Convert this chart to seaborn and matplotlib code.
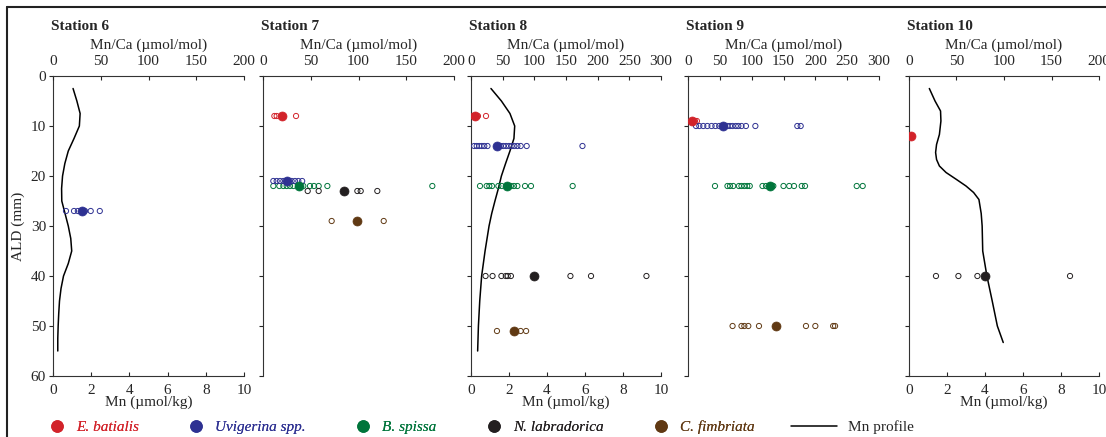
import matplotlib
matplotlib.use("Agg")
import matplotlib.pyplot as plt
from matplotlib.lines import Line2D
import seaborn as sns

# ---- colours of the species ----
RED = "#d2232a"
BLUE = "#2e3192"
GREEN = "#00753b"
BLACK = "#231f20"
BROWN = "#603913"

# ---- Mn profiles (depth mm, Mn umol/kg) ----
st6_prof_depth = [2.5, 5, 7.5, 10, 12.5, 15, 17.5, 20, 22.5, 25, 27.5, 30, 32.5, 35, 37.5, 40, 42.5, 45, 47.5, 50, 52.5, 55]
st6_prof_mn = [1.05, 1.25, 1.42, 1.38, 1.1, 0.8, 0.62, 0.5, 0.45, 0.46, 0.63, 0.8, 0.93, 0.98, 0.8, 0.55, 0.42, 0.34, 0.3, 0.27, 0.25, 0.25]

st8_prof_depth = [2.5, 5, 7.5, 10, 12.5, 15, 17.5, 20, 22.5, 25, 27.5, 30, 35, 40, 45, 50, 55]
st8_prof_mn = [1.05, 1.6, 2.05, 2.3, 2.26, 2.05, 1.82, 1.6, 1.44, 1.26, 1.09, 0.95, 0.74, 0.56, 0.46, 0.39, 0.35]

st10_prof_depth = [2.5, 5, 7, 9, 11.7, 13.7, 15.3, 16.7, 18, 19.3, 20.7, 22, 23.3, 24.7, 27.5, 30, 35, 40, 45, 50, 53.3]
st10_prof_mn = [1.07, 1.37, 1.66, 1.68, 1.6, 1.45, 1.4, 1.45, 1.6, 1.95, 2.5, 3.0, 3.4, 3.68, 3.8, 3.85, 3.88, 4.1, 4.38, 4.65, 4.96]

# ---- Mn/Ca individual values (open) and means (filled), umol/mol ----
# station 6
st6_uvi_depth = 27
st6_uvi_open = [13.6, 22, 26, 33.5, 39.5, 49]
st6_uvi_mean = 30

# station 7
st7_bat_depth = 8
st7_bat_open = [11.9, 14.3, 34.6]
st7_bat_mean = 19.9
st7_uvi_depth = 21
st7_uvi_open = [10.8, 14.3, 17.8, 21.3, 30, 33.5, 37, 41]
st7_uvi_mean = 25.5
st7_spi_depth = 22
st7_spi_open = [10.8, 17.1, 21.3, 24.8, 28.3, 31.8, 42.2, 49.2, 53.4, 58.3, 67.4, 177.3]
st7_spi_mean = 38
st7_lab_depth = 23
st7_lab_open = [46.8, 58.3, 98.8, 102.3, 119.7]
st7_lab_mean = 84.8
st7_fim_depth = 29
st7_fim_open = [71.9, 126.4]
st7_fim_mean = 98.1

# station 8
st8_bat_depth = 8
st8_bat_open = [3, 11, 23.7]
st8_bat_mean = 6.3
st8_uvi_depth = 14
st8_uvi_open = [5, 9, 13, 17, 21, 26, 46.8, 51, 55.3, 60, 64.2, 68.4, 73.2, 78.4, 87.9, 176]
st8_uvi_mean = 40.5
st8_spi_depth = 22
st8_spi_open = [14.2, 24.7, 28.9, 33.2, 43.2, 48.4, 63.2, 67.9, 73.2, 85.3, 94.7, 160.5]
st8_spi_mean = 56.3
st8_lab_depth = 40
st8_lab_open = [23, 34, 48, 55, 58, 63, 157, 189.5, 277]
st8_lab_mean = 100
st8_fim_depth = 51
st8_fim_open = [41, 78.4, 87]
st8_fim_mean = 68.4

# station 9
st9_bat_depth = 9
st9_bat_open = [11, 14]
st9_bat_mean = 6.8
st9_uvi_depth = 10
st9_uvi_open = [12.6, 17.8, 24, 30.4, 37, 43, 49, 62, 66, 70, 75, 79, 84, 91, 105.8, 171.7, 177]
st9_uvi_mean = 55.5
st9_spi_depth = 22
st9_spi_open = [42.4, 62, 66, 71, 80, 84, 88.5, 93, 97, 117, 122.5, 134, 150, 159, 166.5, 178.6, 183.8, 265, 274.4]
st9_spi_mean = 128.8
st9_fim_depth = 50
st9_fim_open = [70, 84, 88.5, 94.7, 111.5, 185.3, 200, 228, 231]
st9_fim_mean = 138

# station 10
st10_bat_depth = 12
st10_bat_open = []
st10_bat_mean = 2.1
st10_lab_depth = 40
st10_lab_open = [28.4, 52, 72, 169.5]
st10_lab_mean = 80

species_names = ["E. batialis", "Uvigerina spp.", "B. spissa", "N. labradorica", "C. fimbriata"]
species_colors = [RED, BLUE, GREEN, BLACK, BROWN]

sns.set_style("ticks")
plt.rcParams["font.family"] = ["Liberation Serif", "DejaVu Serif"]
plt.rcParams["font.size"] = 11
plt.rcParams["axes.linewidth"] = 0.8
plt.rcParams["axes.edgecolor"] = "#333333"

W, H = 1106, 437
fig = plt.figure(figsize=(W / 100, H / 100), dpi=100)


def panel(left, width, title, top_max, bottom_axis, ylabels):
    ax = fig.add_axes([left / W, 1 - 376 / H, width / W, 300 / H])
    top = ax.twiny()
    ax.set_ylim(60, 0)
    ax.set_xlim(0, 10)
    top.set_xlim(0, top_max)
    ax.set_yticks(range(0, 61, 10))
    ax.tick_params(axis="y", direction="out", length=3, width=0.8, pad=2, labelsize=11)
    if not ylabels:
        ax.set_yticklabels([])
    else:
        ax.set_ylabel("ALD (mm)", labelpad=4)
    for s in ["top", "right"]:
        ax.spines[s].set_visible(False)
    for s in ["left", "right", "bottom"]:
        top.spines[s].set_visible(False)
    if bottom_axis:
        ax.set_xticks(range(0, 11, 2))
        ax.tick_params(axis="x", direction="in", length=3, width=0.8, pad=5.5, labelsize=11)
        ax.set_xlabel("Mn (µmol/kg)", labelpad=-1)
    else:
        ax.spines["bottom"].set_visible(False)
        ax.set_xticks([])
    top.set_xticks(range(0, top_max + 1, 50))
    top.tick_params(axis="x", direction="in", length=3, width=0.8, pad=6, labelsize=11)
    top.set_xlabel("Mn/Ca (µmol/mol)", labelpad=4.5)
    ax.text(-0.012, 1.165, title, transform=ax.transAxes, fontweight="bold",
            fontsize=11, ha="left", va="center")
    return ax, top


def species(top, depth, open_vals, mean_val, color):
    if open_vals:
        sns.scatterplot(x=open_vals, y=[depth] * len(open_vals), ax=top, s=14,
                        marker="o", facecolor="none", edgecolor=color, linewidth=0.7)
    sns.scatterplot(x=[mean_val], y=[depth], ax=top, s=42, marker="o",
                    color=color, edgecolor=color, linewidth=0.5, zorder=5)


def profile(ax, mn, depth):
    sns.lineplot(x=mn, y=depth, ax=ax, sort=False, estimator=None, color="black", lw=1.1)


# Station 6
ax6, t6 = panel(53, 191, "Station 6", 200, True, True)
profile(ax6, st6_prof_mn, st6_prof_depth)
species(t6, st6_uvi_depth, st6_uvi_open, st6_uvi_mean, BLUE)

# Station 7
ax7, t7 = panel(263, 191, "Station 7", 200, False, False)
species(t7, st7_bat_depth, st7_bat_open, st7_bat_mean, RED)
species(t7, st7_spi_depth, st7_spi_open, st7_spi_mean, GREEN)
species(t7, st7_uvi_depth, st7_uvi_open, st7_uvi_mean, BLUE)
species(t7, st7_lab_depth, st7_lab_open, st7_lab_mean, BLACK)
species(t7, st7_fim_depth, st7_fim_open, st7_fim_mean, BROWN)

# Station 8
ax8, t8 = panel(471, 190, "Station 8", 300, True, False)
profile(ax8, st8_prof_mn, st8_prof_depth)
species(t8, st8_bat_depth, st8_bat_open, st8_bat_mean, RED)
species(t8, st8_uvi_depth, st8_uvi_open, st8_uvi_mean, BLUE)
species(t8, st8_spi_depth, st8_spi_open, st8_spi_mean, GREEN)
species(t8, st8_lab_depth, st8_lab_open, st8_lab_mean, BLACK)
species(t8, st8_fim_depth, st8_fim_open, st8_fim_mean, BROWN)

# Station 9
ax9, t9 = panel(688, 191, "Station 9", 300, False, False)
species(t9, st9_bat_depth, st9_bat_open, st9_bat_mean, RED)
species(t9, st9_uvi_depth, st9_uvi_open, st9_uvi_mean, BLUE)
species(t9, st9_spi_depth, st9_spi_open, st9_spi_mean, GREEN)
species(t9, st9_fim_depth, st9_fim_open, st9_fim_mean, BROWN)

# Station 10
ax10, t10 = panel(909, 190, "Station 10", 200, True, False)
profile(ax10, st10_prof_mn, st10_prof_depth)
species(t10, st10_bat_depth, st10_bat_open, st10_bat_mean, RED)
species(t10, st10_lab_depth, st10_lab_open, st10_lab_mean, BLACK)

# legend: species dots, then the profile line with a longer handle
leg_y = 1 - 427 / H
dots = [Line2D([], [], ls="none", marker="o", ms=8, color=c) for c in species_colors]
leg1 = fig.legend(dots, species_names, loc="center left", bbox_to_anchor=(43 / W, leg_y),
                  ncol=5, frameon=False, handlelength=1.0, handletextpad=0.75,
                  columnspacing=3.25, fontsize=11, borderaxespad=0)
for txt, c in zip(leg1.get_texts(), species_colors):
    txt.set_color(c)
    txt.set_fontstyle("italic")
fig.add_artist(leg1)
leg2 = fig.legend([Line2D([], [], color="black", lw=1.1)], ["Mn profile"], loc="center left",
                  bbox_to_anchor=(785 / W, leg_y), frameon=False, handlelength=3.0,
                  handletextpad=0.75, fontsize=11, borderaxespad=0)

# frame lines at top and left
fig.add_artist(Line2D([7 / W, 1], [1 - 7 / H, 1 - 7 / H], transform=fig.transFigure, color="#222222", lw=1.5))
fig.add_artist(Line2D([7 / W, 7 / W], [0, 1 - 7 / H], transform=fig.transFigure, color="#222222", lw=1.5))

fig.savefig("out.png", dpi=100)
